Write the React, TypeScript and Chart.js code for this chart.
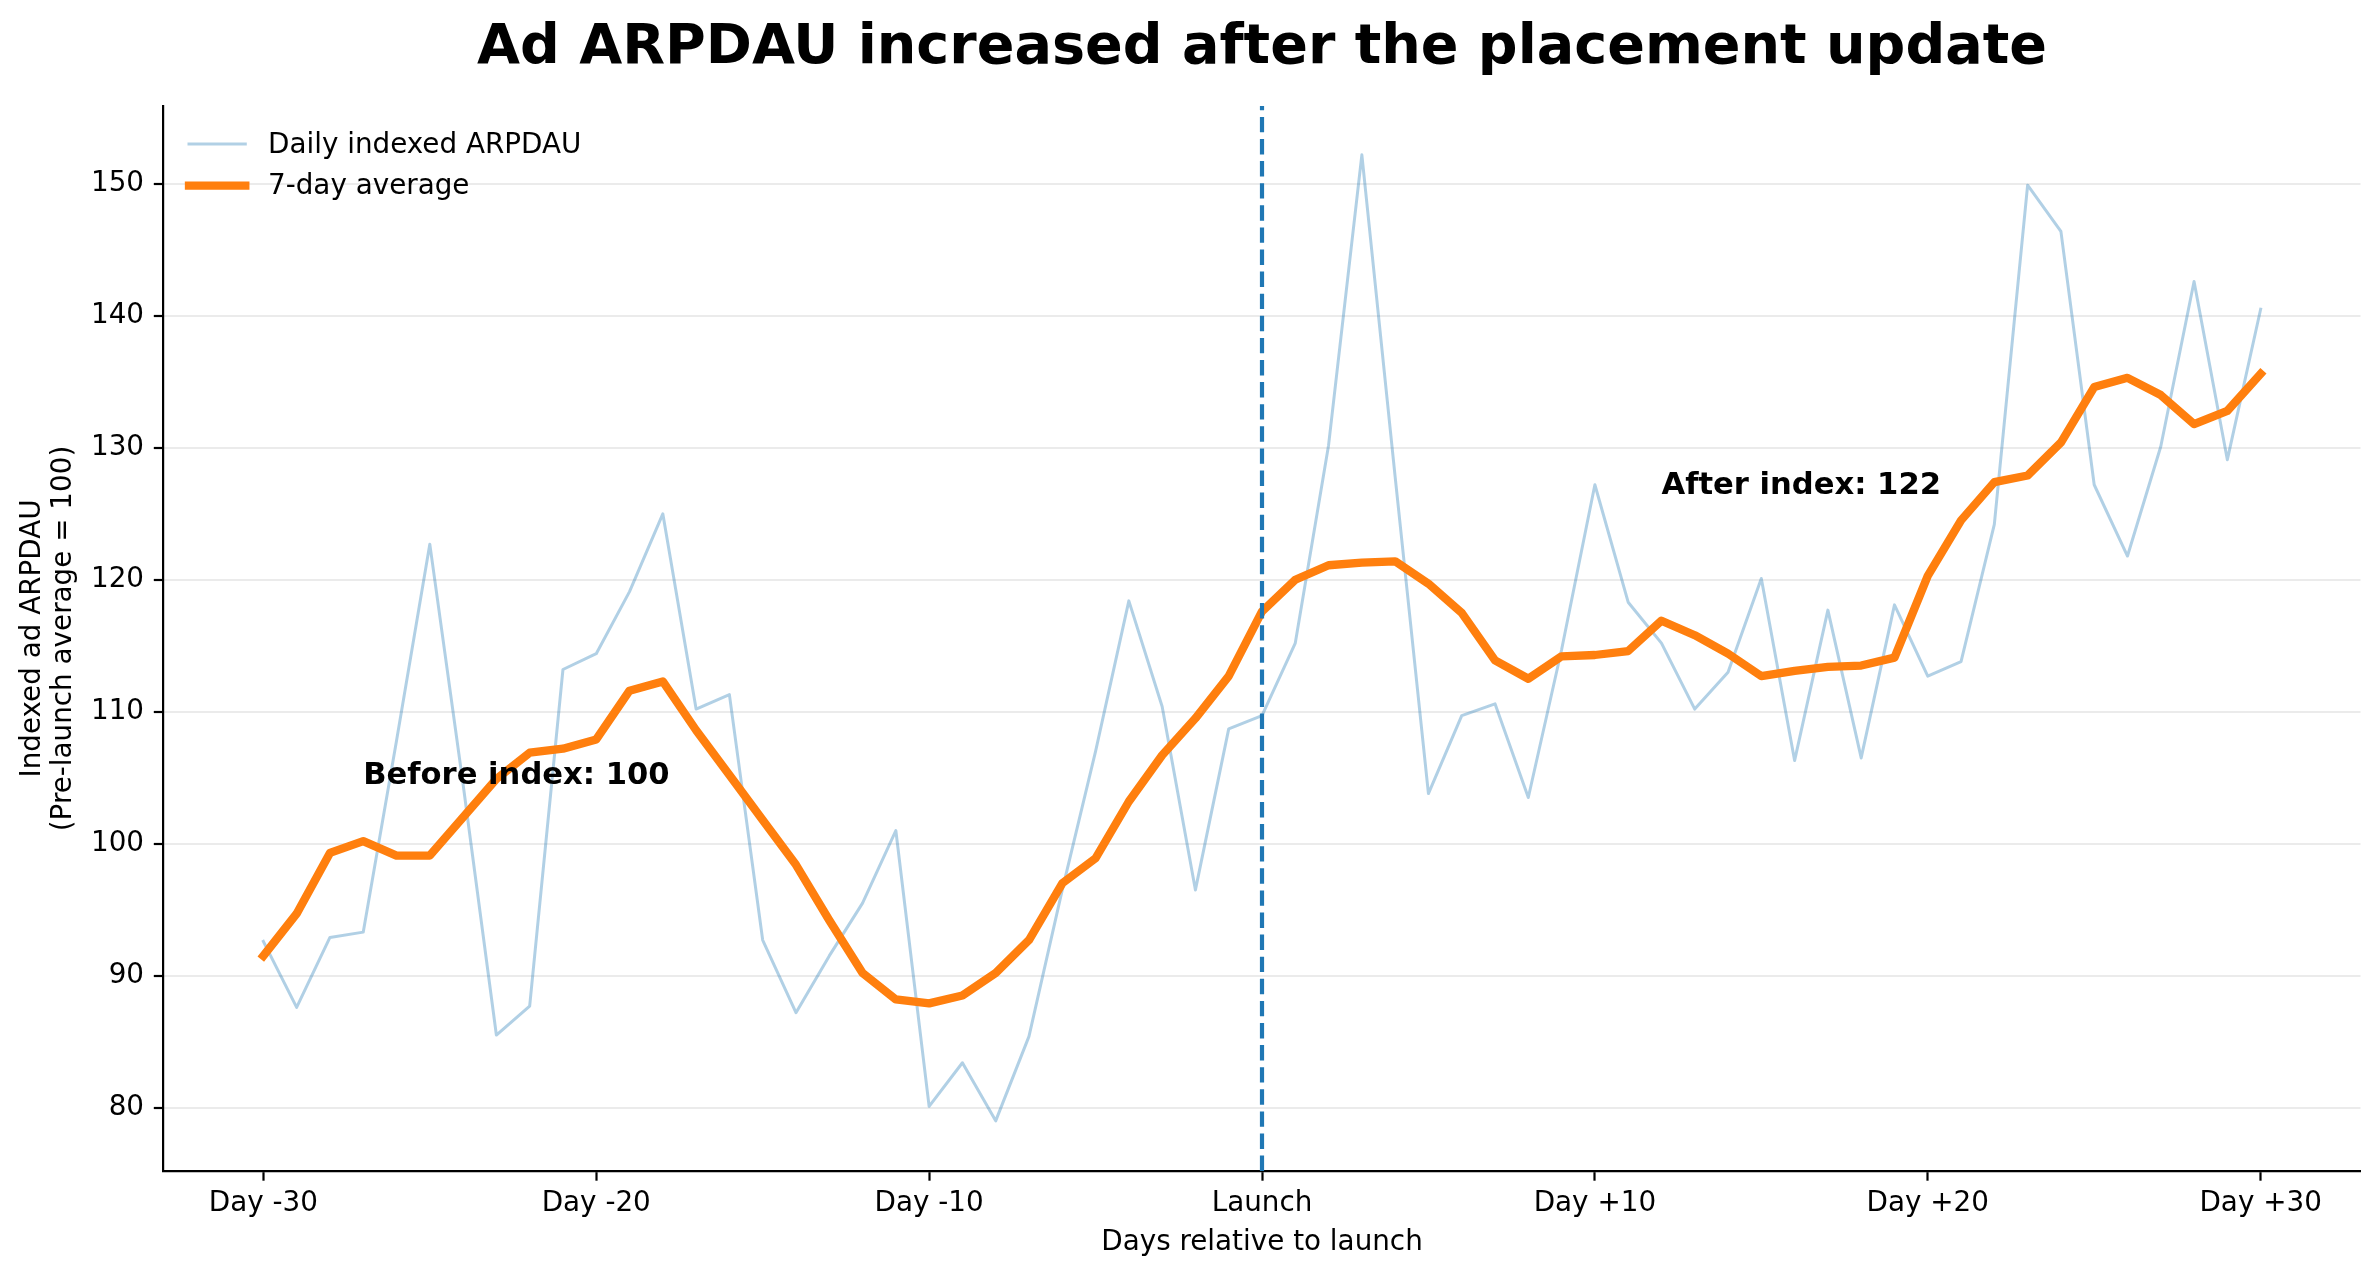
import React, { useEffect, useRef } from "react";
import { Chart, registerables } from "chart.js";

Chart.register(...registerables);

const TITLE = "Ad ARPDAU increased after the placement update";
const X_TITLE = "Days relative to launch";
const Y_TITLE = ["Indexed ad ARPDAU", "(Pre-launch average = 100)"];

const DAYS = [
  -30, -29, -28, -27, -26, -25, -24, -23, -22, -21, -20, -19, -18, -17, -16, -15,
  -14, -13, -12, -11, -10, -9, -8, -7, -6, -5, -4, -3, -2, -1, 0, 1, 2, 3, 4, 5, 6,
  7, 8, 9, 10, 11, 12, 13, 14, 15, 16, 17, 18, 19, 20, 21, 22, 23, 24, 25, 26, 27,
  28, 29, 30,
];

const DAILY = [
  92.6, 87.6, 92.9, 93.3, 107.8, 122.7, 104.5, 85.5, 87.7, 113.2, 114.4, 119.1,
  125.0, 110.2, 111.3, 92.7, 87.2, 91.5, 95.5, 101.0, 80.1, 83.4, 79.0, 85.4, 96.5,
  107.0, 118.4, 110.4, 96.5, 108.7, 109.7, 115.2, 130.2, 152.2, 127.8, 103.8, 109.7,
  110.6, 103.5, 114.7, 127.2, 118.3, 115.2, 110.2, 113.0, 120.1, 106.3, 117.7, 106.5,
  118.1, 112.7, 113.8, 124.2, 149.9, 146.4, 127.2, 121.8, 130.1, 142.6, 129.1, 140.5,
];

const AVG_7D = [
  91.5, 94.7, 99.3, 100.2, 99.1, 99.1, 102.0, 104.9, 106.9, 107.2, 107.9, 111.6,
  112.3, 108.6, 105.2, 101.8, 98.4, 94.2, 90.2, 88.2, 87.9, 88.5, 90.2, 92.7, 97.0,
  98.9, 103.2, 106.7, 109.5, 112.7, 117.6, 120.0, 121.1, 121.3, 121.4, 119.7, 117.5,
  113.9, 112.5, 114.2, 114.3, 114.6, 116.9, 115.8, 114.4, 112.7, 113.1, 113.4, 113.5,
  114.1, 120.3, 124.5, 127.4, 127.9, 130.4, 134.6, 135.3, 134.0, 131.8, 132.8, 135.6,
];

const X_TICK_VALUES = [-30, -20, -10, 0, 10, 20, 30];
const X_TICK_LABELS = ["Day -30", "Day -20", "Day -10", "Launch", "Day +10", "Day +20", "Day +30"];
const Y_TICK_VALUES = [80, 90, 100, 110, 120, 130, 140, 150];

const X_MIN = -33;
const X_MAX = 33;
const Y_MIN = 75.2;
const Y_MAX = 155.9;
const LAUNCH_DAY = 0;

const SERIES_LABELS = ["Daily indexed ARPDAU", "7-day average"];
const ANNOTATION_X = [-27, 12];
const ANNOTATION_Y = [104.5, 126.5];
const ANNOTATION_TEXT = ["Before index: 100", "After index: 122"];

const FONT = "DejaVu Sans";
const DAILY_COLOR = "rgba(31,119,180,0.35)";
const AVG_COLOR = "#ff7f0e";
const LAUNCH_COLOR = "#1f77b4";

const overlayPlugin = {
  id: "overlay",
  afterDraw(chart: any) {
    const { ctx, chartArea, scales } = chart;
    ctx.save();
    ctx.fillStyle = "#000";
    // title
    ctx.font = `bold 55.6px "${FONT}"`;
    ctx.textAlign = "center";
    ctx.textBaseline = "alphabetic";
    ctx.fillText(TITLE, (chartArea.left + chartArea.right) / 2, chartArea.top - 43);
    // annotations
    ctx.font = `bold 30.6px "${FONT}"`;
    ctx.textAlign = "left";
    ANNOTATION_TEXT.forEach((t, i) => {
      ctx.fillText(
        t,
        scales.x.getPixelForValue(ANNOTATION_X[i]),
        scales.y.getPixelForValue(ANNOTATION_Y[i])
      );
    });
    // legend
    const lx0 = chartArea.left + 25.5;
    const lx1 = chartArea.left + 81.8;
    const rows = [
      { y: chartArea.top + 38, color: DAILY_COLOR, w: 3 },
      { y: chartArea.top + 79.7, color: AVG_COLOR, w: 8.3 },
    ];
    ctx.lineCap = "square";
    rows.forEach((r, i) => {
      ctx.beginPath();
      ctx.strokeStyle = r.color;
      ctx.lineWidth = r.w;
      ctx.moveTo(lx0, r.y);
      ctx.lineTo(lx1, r.y);
      ctx.stroke();
      ctx.font = `27.8px "${FONT}"`;
      ctx.fillStyle = "#000";
      ctx.textAlign = "left";
      ctx.textBaseline = "alphabetic";
      ctx.fillText(SERIES_LABELS[i], chartArea.left + 104.5, r.y + 8.7);
    });
    ctx.restore();
  },
};

export default function App() {
  const canvasRef = useRef<HTMLCanvasElement | null>(null);

  useEffect(() => {
    document.body.style.margin = "0";
    const canvas = canvasRef.current;
    if (!canvas) return;
    Chart.defaults.font.family = FONT;
    const chart = new Chart(canvas, {
      type: "line",
      data: {
        datasets: [
          {
            label: SERIES_LABELS[0],
            data: DAYS.map((d, i) => ({ x: d, y: DAILY[i] })),
            borderColor: DAILY_COLOR,
            borderWidth: 3,
            pointRadius: 0,
            tension: 0,
            borderJoinStyle: "round",
            borderCapStyle: "square",
            order: 3,
          },
          {
            label: SERIES_LABELS[1],
            data: DAYS.map((d, i) => ({ x: d, y: AVG_7D[i] })),
            borderColor: AVG_COLOR,
            borderWidth: 8.3,
            pointRadius: 0,
            tension: 0,
            borderJoinStyle: "round",
            borderCapStyle: "square",
            order: 2,
          },
          {
            label: "Launch",
            data: [
              { x: LAUNCH_DAY, y: Y_MIN },
              { x: LAUNCH_DAY, y: Y_MAX },
            ],
            borderColor: LAUNCH_COLOR,
            borderWidth: 4.2,
            borderDash: [15.4, 6.7],
            pointRadius: 0,
            order: 1,
          },
        ] as any,
      },
      options: {
        responsive: false,
        maintainAspectRatio: false,
        animation: false,
        devicePixelRatio: 1,
        layout: { padding: { top: 106, left: 0, right: 19.5, bottom: 0 } },
        plugins: {
          legend: { display: false },
          title: { display: false },
          tooltip: { enabled: false },
        },
        scales: {
          x: {
            type: "linear",
            min: X_MIN,
            max: X_MAX,
            afterFit: (s: any) => {
              s.height = 107;
            },
            afterBuildTicks: (s: any) => {
              s.ticks = X_TICK_VALUES.map((v) => ({ value: v }));
            },
            ticks: {
              autoSkip: false,
              maxRotation: 0,
              color: "#000",
              padding: 6,
              font: { family: FONT, size: 27.8 },
              callback: (v: any) => {
                const i = X_TICK_VALUES.indexOf(Number(v));
                return i >= 0 ? X_TICK_LABELS[i] : "";
              },
            },
            grid: {
              drawOnChartArea: false,
              drawTicks: true,
              tickLength: 9.7,
              tickWidth: 2.2,
              tickColor: "#000",
              color: "#000",
            },
            border: { display: true, color: "#000", width: 2.2 },
            title: {
              display: true,
              text: X_TITLE,
              color: "#000",
              font: { family: FONT, size: 27.8, lineHeight: 1.2 },
              padding: { top: 0, bottom: 19 },
            },
          },
          y: {
            type: "linear",
            min: Y_MIN,
            max: Y_MAX,
            afterFit: (s: any) => {
              s.width = 163.5;
            },
            afterBuildTicks: (s: any) => {
              s.ticks = Y_TICK_VALUES.map((v) => ({ value: v }));
            },
            ticks: {
              color: "#000",
              padding: 9.8,
              font: { family: FONT, size: 27.8 },
              callback: (v: any) => String(v),
            },
            grid: {
              drawOnChartArea: true,
              drawTicks: true,
              tickLength: 9.7,
              tickWidth: 2.2,
              tickColor: "#000",
              color: "#ebebeb",
              lineWidth: 2,
            },
            border: { display: true, color: "#000", width: 2.2 },
            title: {
              display: true,
              text: Y_TITLE,
              color: "#000",
              font: { family: FONT, size: 27.8, lineHeight: 1.12 },
              padding: { top: 17.4, bottom: 0 },
            },
          },
        },
      },
      plugins: [overlayPlugin],
    } as any);
    return () => chart.destroy();
  }, []);

  return (
    <div style={{ position: "absolute", left: 0, top: 0, width: 2380, height: 1278, background: "#fff" }}>
      <canvas ref={canvasRef} width={2380} height={1278} style={{ display: "block", width: 2380, height: 1278 }} />
    </div>
  );
}
